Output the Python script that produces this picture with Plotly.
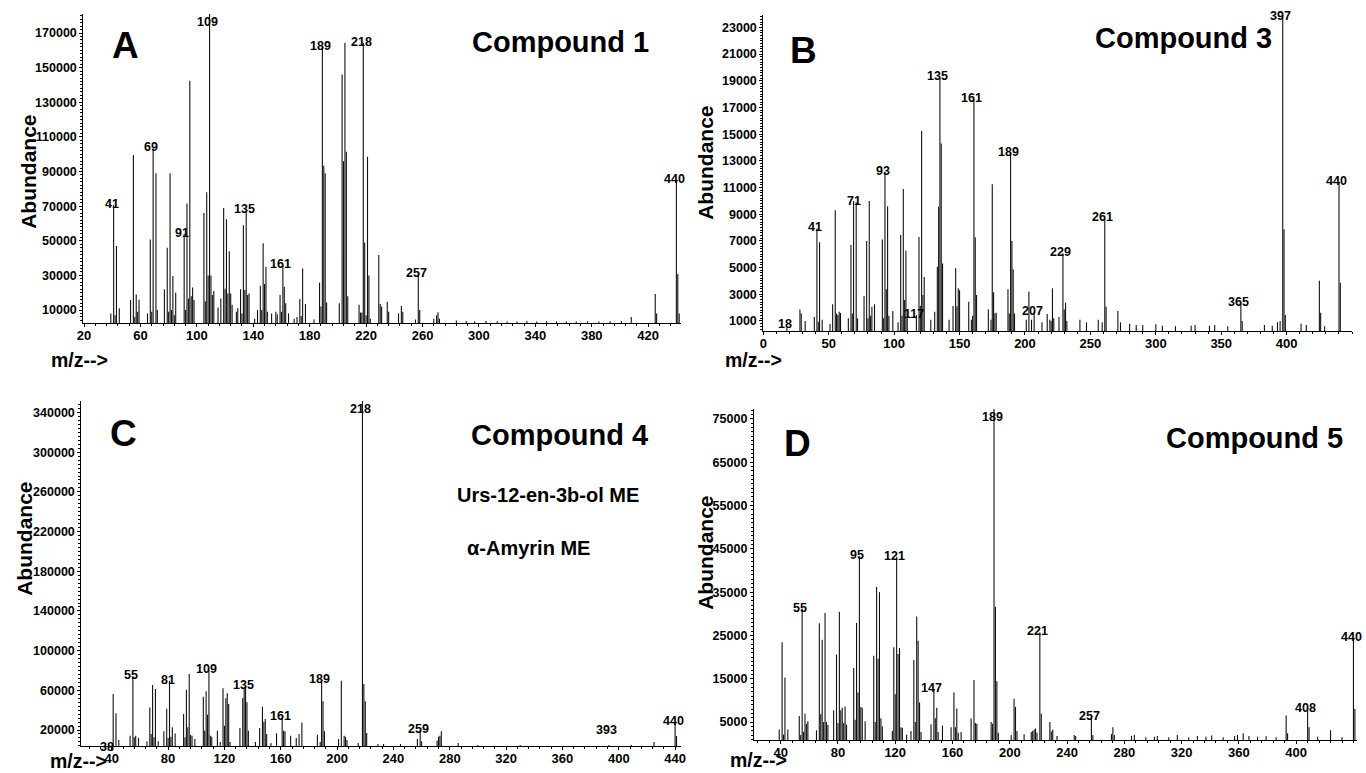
import plotly.graph_objects as go

# ---------------- DATA ----------------
# Panel A  - Compound 1
A_mz = [39, 41, 42, 43, 45, 53, 55, 56, 57, 58, 59, 65, 67, 68, 69, 71, 72, 77, 79, 80,
        81, 82, 83, 84, 85, 91, 92, 93, 94, 95, 96, 97, 98, 105, 106, 107, 108, 109, 110, 111,
        112, 115, 117, 119, 120, 121, 122, 123, 124, 125, 128, 129, 131, 132, 133, 134, 135, 136, 137, 141,
        143, 145, 146, 147, 148, 149, 150, 153, 156, 157, 159, 160, 161, 162, 163, 165, 169, 171, 173, 174,
        175, 177, 183, 187, 188, 189, 190, 191, 192, 201, 203, 204, 205, 206, 207, 215, 216, 217, 218, 219,
        220, 221, 222, 223, 229, 230, 231, 235, 236, 243, 245, 246, 255, 257, 258, 268, 270, 271, 272, 284,
        291, 297, 305, 313, 320, 327, 334, 341, 348, 355, 362, 369, 377, 385, 393, 401, 408, 425, 426, 440,
        441, 442]
A_ab = [8000, 70600, 7000, 47000, 11000, 15800, 99500, 6000, 19000, 9000, 16000, 8000, 50800, 9000, 103500, 89000, 10000, 22000, 46000, 9000,
        89000, 10000, 29600, 7000, 20000, 54000, 10000, 71600, 16700, 142500, 18000, 23000, 15800, 66000, 15000, 78000, 30000, 181000, 30000, 18700,
        21000, 11500, 16700, 69000, 22300, 62500, 19600, 44000, 19600, 13000, 9000, 11000, 22000, 8000, 59000, 21500, 67600, 18700, 19600, 5000,
        10000, 24000, 10000, 48500, 25000, 35000, 9000, 8000, 9000, 7500, 18700, 9000, 36000, 23500, 13900, 8000, 5000, 6000, 16300, 6500,
        34000, 13500, 4500, 25800, 12000, 162000, 93300, 89000, 14400, 13900, 146000, 96000, 164400, 101400, 18000, 13000, 8500, 8500, 164400, 49000,
        7000, 98500, 30000, 5000, 41800, 13500, 12000, 14800, 9000, 8000, 12300, 9000, 4500, 31000, 10000, 5000, 7000, 8700, 5000, 4000,
        3600, 3500, 3700, 3500, 3400, 3300, 3600, 3300, 3500, 3300, 3400, 3300, 3500, 3400, 3500, 3600, 6000, 19200, 8000, 85000,
        30800, 8000]
A_labels = [41, 69, 91, 109, 135, 161, 189, 218, 257, 440]

# Panel B  - Compound 3
B_mz = [18, 28, 29, 32, 39, 41, 42, 43, 45, 51, 53, 55, 56, 57, 58, 59, 65, 67, 68, 69,
        71, 72, 77, 79, 80, 81, 82, 83, 85, 91, 92, 93, 94, 95, 96, 99, 103, 105, 106, 107,
        108, 109, 110, 117, 119, 120, 121, 122, 123, 128, 131, 133, 134, 135, 136, 137, 142, 145, 147, 148,
        149, 150, 157, 159, 160, 161, 162, 163, 172, 174, 175, 176, 177, 178, 187, 188, 189, 190, 191, 192,
        201, 203, 205, 207, 213, 217, 219, 220, 221, 222, 226, 229, 230, 231, 232, 242, 247, 256, 259, 261,
        262, 271, 273, 280, 285, 290, 300, 305, 315, 327, 330, 341, 345, 355, 365, 366, 383, 389, 393, 395,
        397, 398, 399, 411, 415, 425, 426, 429, 440, 441]
B_ab = [500, 1870, 1570, 1000, 1300, 7940, 950, 6900, 1100, 780, 2250, 9300, 1570, 1450, 1700, 1600, 1200, 6700, 1570, 10000,
        9900, 1200, 2870, 7000, 1200, 10000, 1400, 2070, 2250, 7100, 1200, 12200, 3370, 9600, 1400, 1750, 900, 7440, 1400, 10900,
        2570, 6270, 1200, 1450, 7300, 2150, 15230, 2950, 4300, 1100, 1700, 5070, 9560, 19250, 14300, 5300, 1100, 2120, 4950, 2100,
        3450, 3300, 2450, 1100, 1400, 17600, 7270, 2950, 1870, 1100, 11240, 3150, 1570, 1620, 3370, 1570, 13560, 7000, 4870, 1570,
        1100, 3200, 1100, 1700, 900, 1520, 1100, 1000, 3450, 1200, 1300, 6070, 1870, 2370, 1000, 1100, 900, 1100, 900, 8690,
        2070, 1750, 900, 800, 700, 700, 750, 650, 600, 650, 700, 650, 700, 600, 2320, 1000, 700, 650, 900, 1000,
        23800, 7870, 1450, 800, 700, 4020, 1620, 600, 11440, 3870]
B_labels = [18, 41, 71, 93, 117, 135, 161, 189, 207, 229, 261, 365, 397, 440]

# Panel C  - Compound 4
C_mz = [38, 41, 43, 45, 53, 55, 56, 57, 59, 65, 67, 68, 69, 70, 71, 73, 77, 79, 80, 81,
        82, 83, 85, 91, 92, 93, 94, 95, 96, 97, 99, 105, 106, 107, 108, 109, 110, 111, 115, 117,
        119, 120, 121, 122, 123, 124, 131, 133, 134, 135, 136, 137, 142, 145, 147, 148, 149, 150, 153, 157,
        161, 162, 163, 167, 171, 173, 175, 186, 188, 189, 190, 191, 201, 203, 205, 206, 207, 215, 218, 219,
        220, 221, 229, 233, 245, 257, 259, 260, 271, 272, 273, 274, 286, 300, 330, 393, 409, 425, 440, 441]
C_ab = [4500, 56300, 37000, 10000, 14300, 74000, 12600, 14300, 12000, 8600, 42800, 16000, 65400, 12600, 61300, 8600, 18700, 41500, 12000, 69700,
        13300, 22700, 16600, 36100, 12600, 60700, 22700, 76500, 15000, 14300, 11000, 53600, 19300, 59000, 35500, 80000, 14300, 13300, 19300, 8000,
        62000, 24400, 51900, 57000, 46200, 8000, 22000, 52300, 61300, 64700, 47900, 19300, 8000, 22000, 43500, 28400, 31100, 16000, 7000, 16600,
        33000, 19300, 18700, 14300, 12000, 16000, 27700, 15300, 8000, 70400, 48900, 18700, 11000, 69700, 14300, 13300, 10000, 7000, 351600, 66400,
        48900, 17000, 6000, 6000, 6000, 11000, 20000, 8600, 9200, 13300, 14300, 18700, 7000, 5000, 5000, 5000, 5000, 8000, 28000, 14000]
C_labels = [38, 55, 81, 109, 135, 161, 189, 218, 259, 393, 440]

# Panel D  - Compound 5
D_mz = [39, 41, 42, 43, 45, 53, 54, 55, 56, 57, 58, 59, 65, 67, 68, 69, 70, 71, 72, 73,
        77, 79, 80, 81, 82, 83, 84, 85, 86, 91, 92, 93, 94, 95, 96, 97, 99, 105, 106, 107,
        108, 109, 110, 111, 118, 119, 120, 121, 122, 123, 124, 125, 128, 131, 133, 134, 135, 136, 137, 138,
        145, 147, 148, 149, 150, 153, 159, 161, 162, 163, 164, 166, 173, 175, 176, 177, 187, 188, 189, 190,
        191, 192, 201, 203, 204, 205, 210, 215, 216, 217, 218, 219, 221, 222, 228, 229, 230, 233, 245, 246,
        257, 258, 271, 272, 273, 285, 287, 295, 301, 303, 311, 317, 325, 331, 337, 341, 349, 357, 359, 363,
        367, 373, 379, 386, 393, 394, 408, 409, 415, 424, 432, 440, 441]
D_ab = [3300, 23400, 2100, 15300, 3300, 6400, 2000, 31200, 2750, 6900, 4600, 5200, 3100, 27800, 6800, 24000, 5000, 30200, 5000, 4300,
        7700, 20600, 4800, 30500, 7700, 8300, 4800, 8600, 4400, 17500, 5500, 27900, 11800, 43300, 8500, 8300, 5200, 20300, 5000, 36200,
        19600, 35000, 5900, 4000, 2900, 22300, 11400, 43200, 20700, 22100, 3800, 3700, 2100, 2900, 19300, 5000, 29400, 23800, 9500, 2700,
        4500, 12600, 5900, 8300, 2700, 4200, 3800, 11800, 3800, 8100, 2500, 2700, 5800, 14700, 4800, 4600, 5000, 4600, 77500, 31600,
        14400, 2500, 2000, 10400, 8500, 2900, 2200, 2700, 2900, 3300, 3500, 2500, 25700, 6900, 5000, 2800, 3200, 1800, 2000, 1800,
        6200, 2000, 2200, 3800, 2000, 1800, 2000, 1500, 1600, 1800, 1500, 2000, 1500, 1800, 1600, 1900, 1500, 1800, 2000, 2400,
        1800, 1600, 1700, 1500, 6500, 2400, 8100, 3800, 1600, 3100, 1500, 24300, 8000]
D_labels = [55, 95, 121, 147, 189, 221, 257, 408, 440]

# ---------------- LAYOUT CONSTANTS ----------------
W, H = 1366, 773
SANS = "Liberation Sans, Arial"
STEM = "#111111"


def dx(a, b):
    return [a / W, b / W]


def dy(top, bottom):
    return [1 - bottom / H, 1 - top / H]


panels = [
    dict(mz=A_mz, ab=A_ab, labels=A_labels, xd=dx(77, 680), yd=dy(14, 323),
         xr=[19.5, 443.3], yr=[2500, 181000],
         xt=list(range(20, 421, 40)), xminor=8, x0=20,
         yt=list(range(10000, 170001, 20000)), yminor=2000, lift={}),
    dict(mz=B_mz, ab=B_ab, labels=B_labels, xd=dx(763, 1357), yd=dy(15, 331),
         xr=[0, 450], yr=[250, 23930],
         xt=list(range(0, 401, 50)), xminor=10, x0=0,
         yt=list(range(1000, 23001, 2000)), yminor=200, lift={18: 3}),
    dict(mz=C_mz, ab=C_ab, labels=C_labels, xd=dx(75, 680), yd=dy(401, 746),
         xr=[18.4, 444.2], yr=[3900, 351600],
         xt=list(range(40, 441, 40)), xminor=8, x0=40,
         yt=list(range(20000, 340001, 40000)), yminor=4000, lift={38: -3, 393: 14}),
    dict(mz=D_mz, ab=D_ab, labels=D_labels, xd=dx(753.5, 1362), yd=dy(409, 740),
         xr=[21.3, 442.5], yr=[850, 77300],
         xt=list(range(40, 401, 40)), xminor=8, x0=40,
         yt=list(range(5000, 75001, 10000)), yminor=1000, lift={}),
]

fig = go.Figure()
annotations = []
layout_axes = {}

for i, p in enumerate(panels):
    n = "" if i == 0 else str(i + 1)
    xa, ya = "x" + n, "y" + n
    xs, ys = [], []
    for m, a in zip(p["mz"], p["ab"]):
        xs += [m, m, None]
        ys += [0, a, None]
    fig.add_trace(go.Scatter(x=xs, y=ys, mode="lines", xaxis=xa, yaxis=ya,
                             line=dict(color=STEM, width=1.1), hoverinfo="skip",
                             showlegend=False))
    lookup = dict(zip(p["mz"], p["ab"]))
    ymax = p["yr"][1]
    for m in p["labels"]:
        v = lookup[m]
        clipped = v >= ymax
        annotations.append(dict(
            x=m, y=min(v, ymax), xref=xa, yref=ya, text="<b>%d</b>" % m,
            showarrow=False, xanchor="center", yanchor="middle",
            xshift=-2, yshift=(-8 if clipped else 1) + p["lift"].get(m, 0),
            font=dict(family=SANS, size=12.5, color="black")))

    xminor_vals = [v for v in range(p["x0"] - 10 * p["xminor"], int(p["xr"][1]) + 1, p["xminor"])
                   if p["xr"][0] <= v <= p["xr"][1]]
    yminor_vals = [v for v in range(0, int(ymax) + 1, p["yminor"]) if v >= p["yr"][0]]

    layout_axes["xaxis" + n] = dict(
        domain=p["xd"], range=p["xr"], anchor=ya, showgrid=False, zeroline=False,
        showline=True, linecolor="black", linewidth=1, ticks="outside", ticklen=3,
        tickcolor="black", tickmode="array", tickvals=p["xt"],
        ticktext=[str(v) for v in p["xt"]], ticklabelstandoff=-3,
        tickfont=dict(family=SANS, size=13, color="black", weight="bold"),
        minor=dict(ticks="outside", ticklen=2, tickcolor="black", tickmode="array",
                   tickvals=xminor_vals, showgrid=False),
        fixedrange=True)
    layout_axes["yaxis" + n] = dict(
        domain=p["yd"], range=p["yr"], anchor=xa, showgrid=False, zeroline=False,
        showline=True, linecolor="black", linewidth=1, ticks="outside", ticklen=3,
        tickcolor="black", tickmode="array", tickvals=p["yt"],
        ticktext=[str(v) for v in p["yt"]],
        tickfont=dict(family=SANS, size=12.5, color="black", weight="bold"),
        minor=dict(ticks="outside", ticklen=2, tickcolor="black", tickmode="array",
                   tickvals=yminor_vals, showgrid=False),
        fixedrange=True)


def paper_text(text, px, py, size, angle=0, family=SANS):
    annotations.append(dict(
        x=px / W, y=1 - py / H, xref="paper", yref="paper", text="<b>%s</b>" % text,
        showarrow=False, xanchor="center", yanchor="middle", textangle=angle,
        font=dict(family=family, size=size, color="black")))


# panel letters
paper_text("A", 120, 45, 37)
paper_text("B", 804, 51, 37)
paper_text("C", 118, 433, 37)
paper_text("D", 798, 443, 37)
# compound titles
paper_text("Compound 1", 558, 42, 29)
paper_text("Compound 3", 1187, 38, 29)
paper_text("Compound 4", 557, 435, 29)
paper_text("Compound 5", 1259, 438, 29)
paper_text("Urs-12-en-3b-ol ME", 546, 495, 20)
paper_text("α-Amyrin ME", 526, 548, 20)
# axis titles
for (ax, ay) in [(22, 172), (704, 163), (17, 539), (704, 553)]:
    paper_text("Abundance", ax, ay, 21, angle=-90)
for (mx, my) in [(73, 360), (753, 360), (72, 761), (758, 760)]:
    paper_text("m/z-->", mx, my, 19.5)

fig.update_layout(
    width=W, height=H, margin=dict(l=0, r=0, t=0, b=0),
    paper_bgcolor="white", plot_bgcolor="white",
    showlegend=False, annotations=annotations, **layout_axes)

fig.write_html("out.html", config={"displayModeBar": False, "staticPlot": True},
               post_script="document.body.style.margin='0';document.body.style.overflow='hidden';")
